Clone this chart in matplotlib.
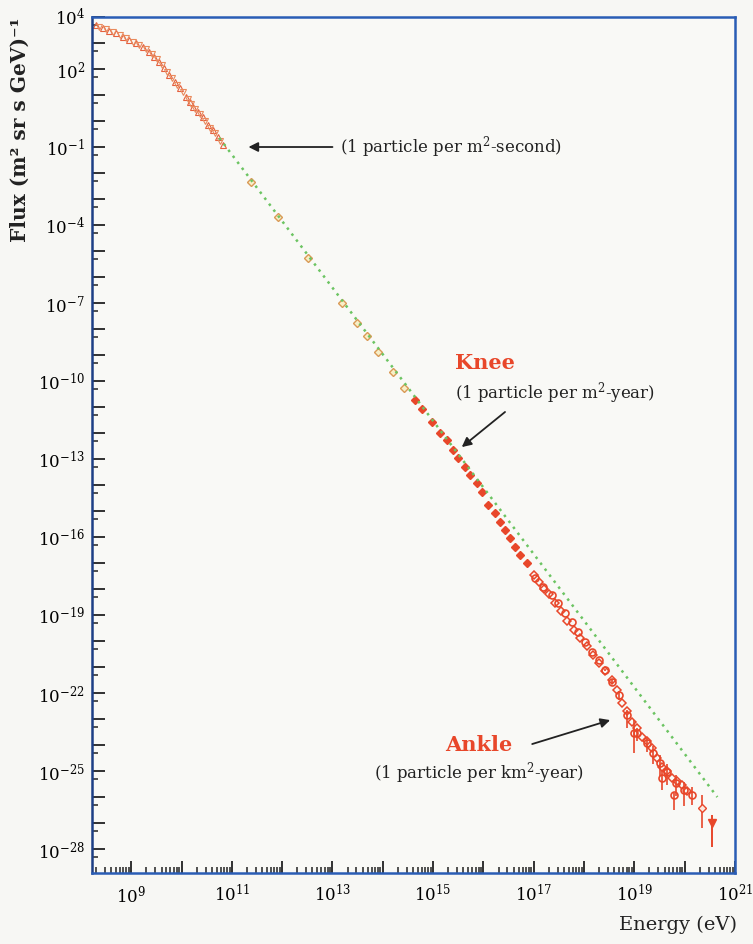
import numpy as np
import matplotlib.pyplot as plt
from matplotlib.ticker import FixedLocator, FuncFormatter, NullFormatter

plt.rcParams['font.family'] = ['DejaVu Serif']
plt.rcParams['mathtext.fontset'] = 'dejavuserif'

# all values are log10: energy in eV, flux in (m^2 sr s GeV)^-1
# low energy spectrum (open triangles)
tri_logE = [8.30, 8.43, 8.56, 8.70, 8.83, 8.96, 9.09, 9.23, 9.36, 9.46, 9.56,
            9.66, 9.76, 9.86, 9.96, 10.09, 10.16, 10.22, 10.32, 10.42, 10.52,
            10.62, 10.72, 10.82]
tri_logF = [3.69, 3.56, 3.47, 3.37, 3.24, 3.12, 2.99, 2.83, 2.67, 2.47, 2.28,
            2.03, 1.77, 1.51, 1.26, 0.93, 0.74, 0.55, 0.36, 0.17, -0.15,
            -0.35, -0.60, -0.92]
# second triangle set, same range
tri2_logE = [8.36, 8.50, 8.63, 8.77, 8.90, 9.03, 9.16, 9.30, 9.41, 9.51, 9.61,
             9.71, 9.81, 9.91, 10.02, 10.12, 10.19, 10.27, 10.37, 10.47,
             10.57, 10.67, 10.77]
tri2_logF = [3.62, 3.52, 3.42, 3.30, 3.18, 3.05, 2.91, 2.75, 2.57, 2.38, 2.16,
             1.90, 1.64, 1.39, 1.10, 0.83, 0.65, 0.45, 0.27, 0.00, -0.25,
             -0.48, -0.76]

# direct measurements up to the knee (open diamonds)
dia_logE = [11.39, 11.91, 12.51, 13.18, 13.48, 13.68, 13.91, 14.21, 14.42]
dia_logF = [-2.33, -3.68, -5.28, -7.01, -7.76, -8.27, -8.87, -9.64, -10.28]

# air shower data around the knee (small filled points)
knee_logE = [14.64, 14.77, 14.97, 15.14, 15.27, 15.40, 15.50, 15.63, 15.73,
             15.87, 15.97, 16.10, 16.23, 16.33, 16.43, 16.53, 16.63, 16.73,
             16.86]
knee_logF = [-10.73, -11.09, -11.57, -12.01, -12.27, -12.65, -12.97, -13.30,
             -13.62, -13.93, -14.26, -14.77, -15.09, -15.41, -15.73, -16.05,
             -16.37, -16.69, -17.01]

# highest energies (open circles with error bars, in decades)
high_logE = [17.03, 17.19, 17.36, 17.49, 17.63, 17.76, 17.89, 18.02, 18.16,
             18.29, 18.42, 18.56, 18.69, 18.86, 18.99, 19.05, 19.25, 19.38,
             19.52, 19.55, 19.65, 19.78, 19.82, 19.98, 20.15]
high_logF = [-17.59, -17.91, -18.23, -18.55, -18.93, -19.26, -19.64, -20.03,
             -20.41, -20.73, -21.12, -21.57, -22.08, -22.85, -23.54, -23.55,
             -23.93, -24.32, -24.70, -25.27, -25.03, -25.92, -25.47, -25.73,
             -25.92]
high_errlo = [0, 0, 0, 0, 0, 0, 0, 0, 0, 0, 0.05, 0.1, 0.2, 0.5, 0.77, 0.3,
              0.35, 0.4, 0.5, 0.46, 0.5, 0.58, 0.5, 0.6, 0.4]
high_errhi = [0, 0, 0, 0, 0, 0, 0, 0, 0, 0, 0.05, 0.1, 0.15, 0.2, 0.5, 0.2,
              0.25, 0.3, 0.3, 0.31, 0.3, 0.08, 0.3, 0.3, 0.3]

# second set at the ankle (open diamonds)
ank_logE = [17.00, 17.10, 17.20, 17.30, 17.42, 17.55, 17.67, 17.80, 17.92,
            18.05, 18.17, 18.30, 18.42, 18.55, 18.65, 18.75, 18.85, 18.95,
            19.05, 19.15, 19.25, 19.35, 19.45, 19.55, 19.65, 19.75, 19.85,
            19.95, 20.05]
ank_logF = [-17.45, -17.72, -17.98, -18.20, -18.52, -18.85, -19.22, -19.58,
            -19.88, -20.20, -20.52, -20.86, -21.17, -21.50, -21.88, -22.40,
            -22.70, -23.10, -23.35, -23.70, -23.85, -24.10, -24.50, -24.85,
            -25.00, -25.25, -25.40, -25.55, -25.75]

# last two points
end_logE = [20.35, 20.55]
end_logF = [-26.43, -27.00]
end_errlo = [0.77, 0.92]
end_errhi = [0.50, 0.31]

# E^-2.7 reference line
line_logE = [10.75, 20.65]
line_logF = [-0.65, -26.00]


def p10(v):
    return np.power(10.0, np.array(v, dtype=float))


fig = plt.figure(figsize=(7.53, 9.44), dpi=100, facecolor='#f7f7f4')
ax = fig.add_axes([0.1222, 0.0752, 0.8538, 0.9068])
ax.set_facecolor('#f9f9f6')

red = '#e8472a'

ax.plot(p10(tri_logE), p10(tri_logF), ls='none', marker='^', ms=4.3,
        mfc='none', mec='#e5603e', mew=0.8, zorder=2)
ax.plot(p10(tri2_logE), p10(tri2_logF), ls='none', marker='v', ms=4.3,
        mfc='none', mec='#e98a5c', mew=0.8, zorder=2)
ax.plot(p10(dia_logE), p10(dia_logF), ls='none', marker='D', ms=4.5,
        mfc='#f8efc8', mec='#d99a55', mew=1.0, zorder=2)
ax.plot(p10(knee_logE), p10(knee_logF), ls='none', marker='D', ms=3.6,
        mfc=red, mec=red, zorder=2)

hE = p10(high_logE)
hF = p10(high_logF)
lo = hF - hF * 10.0 ** (-np.array(high_errlo))
hi = hF * 10.0 ** np.array(high_errhi) - hF
ax.errorbar(hE, hF, yerr=[lo, hi], ls='none', marker='o', ms=5,
            mfc='none', mec=red, mew=1.2, ecolor=red, elinewidth=1.2,
            capsize=0, zorder=2)
ax.plot(p10(ank_logE), p10(ank_logF), ls='none', marker='D', ms=4.5,
        mfc='none', mec=red, mew=1.1, zorder=2)

eE = p10(end_logE)
eF = p10(end_logF)
lo = eF - eF * 10.0 ** (-np.array(end_errlo))
hi = eF * 10.0 ** np.array(end_errhi) - eF
ax.errorbar(eE[:1], eF[:1], yerr=[lo[:1], hi[:1]], ls='none', marker='D',
            ms=4.5, mfc='#fbe9df', mec=red, mew=1.0, ecolor=red,
            elinewidth=1.2, zorder=2)
ax.errorbar(eE[1:], eF[1:], yerr=[lo[1:], hi[1:]], ls='none', marker='v',
            ms=6, mfc=red, mec=red, ecolor=red, elinewidth=1.4, zorder=2)

ax.plot(p10(line_logE), p10(line_logF), color='#6cc462', lw=1.8,
        ls=(0, (1, 2)), zorder=3)

ax.set_xscale('log')
ax.set_yscale('log')
ax.set_xlim(10 ** 8.22, 1e21)
ax.set_ylim(10 ** -28.92, 1e4)

# ticks: every decade, labels only on some
xdec = np.arange(9, 22)
ax.xaxis.set_major_locator(FixedLocator(p10(xdec)))
ax.xaxis.set_major_formatter(FuncFormatter(
    lambda v, pos: r'$10^{%d}$' % round(np.log10(v)) if round(np.log10(v)) % 2 == 1 else ''))
xminor = [m * 10.0 ** d for d in range(8, 21) for m in range(2, 10)]
ax.xaxis.set_minor_locator(FixedLocator(xminor))
ax.xaxis.set_minor_formatter(NullFormatter())

ydec = np.arange(-28, 5)
ylab = [4, 2, -1, -4, -7, -10, -13, -16, -19, -22, -25, -28]
ax.yaxis.set_major_locator(FixedLocator(p10(ydec)))
ax.yaxis.set_major_formatter(FuncFormatter(
    lambda v, pos: r'$10^{%d}$' % round(np.log10(v)) if round(np.log10(v)) in ylab else ''))
ax.yaxis.set_minor_locator(FixedLocator([5 * 10.0 ** d for d in range(-29, 4)]))
ax.yaxis.set_minor_formatter(NullFormatter())

ax.tick_params(which='both', direction='in', top=False, right=False,
               color='#222222')
ax.tick_params(which='major', length=9, width=1.3, labelsize=12, pad=5)
ax.tick_params(which='minor', length=4.5, width=1.1)
ax.tick_params(axis='x', which='major', pad=8)

for s in ax.spines.values():
    s.set_color('#2a5db5')
    s.set_linewidth(1.8)
ax.spines['left'].set_color('#1d3f86')

fig.text(20 / 753, 1 - 130 / 944, 'Flux (m² sr s GeV)⁻¹', rotation=90,
         ha='center', va='center', fontsize=14.5, fontweight='bold',
         color='#222222')
fig.text(737 / 753, 1 - 925 / 944, 'Energy (eV)', ha='right', va='center',
         fontsize=14, color='#222222')

arrow = dict(arrowstyle='-|>', color='#222222', lw=1.3, mutation_scale=14,
             shrinkA=0, shrinkB=0)
txt = dict(fontsize=12, color='#222222')

ax.annotate('', xy=(10 ** 11.33, 10 ** -1.0), xytext=(10 ** 13.0, 10 ** -1.0),
            arrowprops=arrow)
ax.text(10 ** 13.14, 10 ** -1.0, '(1 particle per m$^2$-second)', ha='left',
        va='center', **txt)

ax.text(10 ** 15.43, 10 ** -9.31, 'Knee', ha='left', va='center',
        fontsize=15, fontweight='bold', color=red)
ax.text(10 ** 15.43, 10 ** -10.46, '(1 particle per m$^2$-year)', ha='left',
        va='center', **txt)
ax.annotate('', xy=(10 ** 15.57, 10 ** -12.54), xytext=(10 ** 16.43, 10 ** -11.19),
            arrowprops=arrow)

ax.text(10 ** 15.91, 10 ** -24.0, 'Ankle', ha='center', va='center',
        fontsize=15, fontweight='bold', color=red)
ax.text(10 ** 15.91, 10 ** -25.08, '(1 particle per km$^2$-year)', ha='center',
        va='center', **txt)
ax.annotate('', xy=(10 ** 18.52, 10 ** -23.04), xytext=(10 ** 16.97, 10 ** -23.96),
            arrowprops=arrow)

plt.savefig('out.png', dpi=100, facecolor=fig.get_facecolor())
